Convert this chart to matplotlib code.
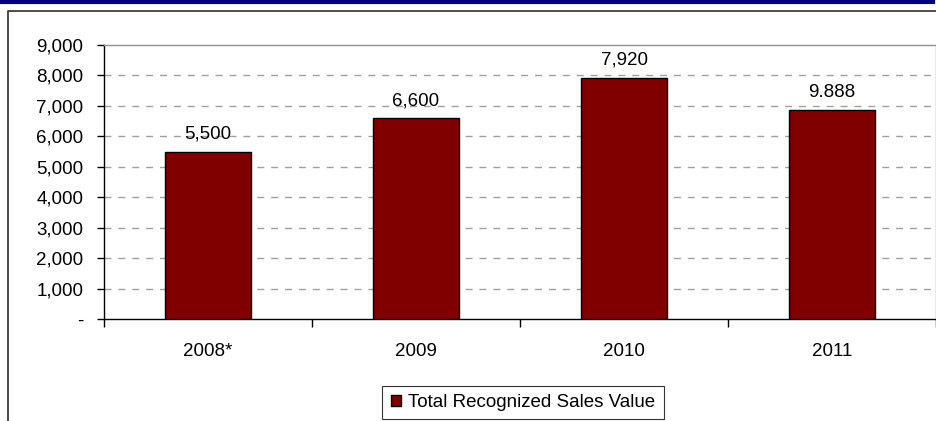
import matplotlib.pyplot as plt
from matplotlib.lines import Line2D
from matplotlib.ticker import FuncFormatter

# 数据
years = ['2008*', '2009', '2010', '2011']
sales = [5500, 6600, 7920, 6880]
bar_labels = ['5,500', '6,600', '7,920', '9.888']
yticks = [0, 1000, 2000, 3000, 4000, 5000, 6000, 7000, 8000, 9000]
legend_label = 'Total Recognized Sales Value'

plt.rcParams['font.family'] = ['Liberation Sans', 'DejaVu Sans']
fontsize = 13.5
bar_color = '#800000'

fig = plt.figure(figsize=(9.37, 4.21), dpi=100)

# 顶部深蓝色线条和外框
fig.add_artist(Line2D([0, 0.996], [0.995, 0.995], transform=fig.transFigure,
                      color='#000080', linewidth=3.0))
fig.add_artist(Line2D([0.009, 0.009, 1.0], [0.0, 0.973, 0.973], transform=fig.transFigure,
                      color='#404040', linewidth=1.3))

ax = fig.add_axes([0.111, 0.2423, 0.888, 0.6507])

x = range(len(years))
bars = ax.bar(x, sales, width=0.41, color=bar_color, edgecolor='black',
              linewidth=1.0, label=legend_label, zorder=3)

for rect, txt in zip(bars, bar_labels):
    ax.annotate(txt, (rect.get_x() + rect.get_width() / 2, rect.get_height()),
                xytext=(0, 6.5), textcoords='offset points', ha='center', va='bottom',
                fontsize=fontsize)

ax.set_xlim(-0.5, len(years) - 0.5)
ax.set_ylim(0, 9000)
ax.set_yticks(yticks)
ax.yaxis.set_major_formatter(FuncFormatter(lambda v, p: '-' if v == 0 else f'{int(v):,}'))
ax.set_xticks(list(x))
ax.set_xticklabels(years, fontsize=fontsize)
ax.set_xticks([i + 0.5 for i in range(-1, len(years))], minor=True)
ax.tick_params(axis='x', which='major', length=0, pad=17)
ax.tick_params(axis='x', which='minor', length=6, width=1.0, direction='out')
ax.tick_params(axis='y', length=5, width=1.0, direction='out', labelsize=fontsize, pad=10)

for v in yticks[1:-1]:
    ax.axhline(v, color='#a0a0a0', linestyle=(0, (5, 5)), linewidth=1.0, zorder=1)

ax.spines['top'].set_color('#909090')
ax.spines['right'].set_color('#909090')
ax.spines['left'].set_color('black')
ax.spines['bottom'].set_color('black')
for s in ax.spines.values():
    s.set_linewidth(1.0)

leg = ax.legend(loc='upper center', bbox_to_anchor=(0.5036, -0.243), frameon=True,
                fancybox=False, edgecolor='black', fontsize=fontsize,
                handlelength=0.55, handleheight=0.55, handletextpad=0.4,
                borderpad=0.45, borderaxespad=0)
leg.get_frame().set_linewidth(0.8)

fig.savefig('out.png', dpi=100)
